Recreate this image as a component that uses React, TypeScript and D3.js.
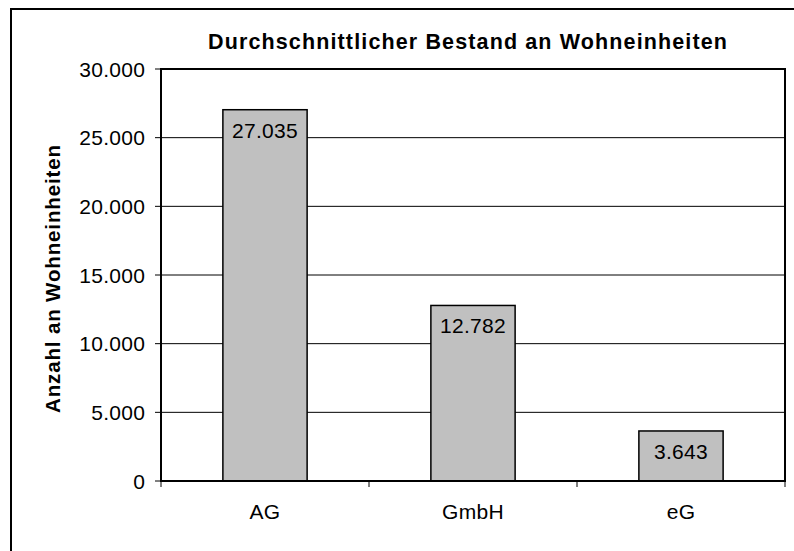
import React from "react";
import * as d3 from "d3";

const categories = ["AG", "GmbH", "eG"];
const values = [27035, 12782, 3643];
const valueLabels = ["27.035", "12.782", "3.643"];
const yTicks = [0, 5000, 10000, 15000, 20000, 25000, 30000];
const yTickLabels = ["0", "5.000", "10.000", "15.000", "20.000", "25.000", "30.000"];
const title = "Durchschnittlicher Bestand an Wohneinheiten";
const yTitle = "Anzahl an Wohneinheiten";

export default function App() {
  const W = 794, H = 551;
  const left = 161, right = 785, top = 69, bottom = 481;
  const font = "'Liberation Sans', Arial, sans-serif";

  const x = d3.scaleBand<string>().domain(categories).range([left, right]).paddingInner(0.595).paddingOuter(0.2975);
  const y = d3.scaleLinear().domain([0, 30000]).range([bottom, top]);
  const step = (right - left) / categories.length;

  return (
    <svg width={W} height={H} style={{ position: "absolute", left: 0, top: 0, background: "#fff" }}>
      <rect x={11} y={9} width={W + 20} height={H + 20} fill="#fff" stroke="#000" strokeWidth={2} />
      <text x={467.5} y={49} textAnchor="middle" fontFamily={font} fontWeight="bold" fontSize={21.5} textLength={519} lengthAdjust="spacing" fill="#000">{title}</text>
      {yTicks.slice(1).map((t) => (
        <line key={t} x1={left} x2={right} y1={y(t)} y2={y(t)} stroke="#000" strokeWidth={1} />
      ))}
      {yTicks.map((t, i) => (
        <g key={"t" + t}>
          <line x1={left - 6} x2={left} y1={y(t)} y2={y(t)} stroke="#000" strokeWidth={1} />
          <text x={145.3} y={y(t)} dy="0.36em" textAnchor="end" fontFamily={font} fontSize={21} letterSpacing={0.3} fill="#000">{yTickLabels[i]}</text>
        </g>
      ))}
      {categories.map((c, i) => (
        <g key={c}>
          <rect x={x(c)} y={y(values[i])} width={x.bandwidth()} height={bottom - y(values[i])} fill="#c0c0c0" stroke="#000" strokeWidth={1.5} />
          <text x={x(c)! + x.bandwidth() / 2} y={y(values[i]) + 28} textAnchor="middle" fontFamily={font} fontSize={21} letterSpacing={0.3} fill="#000">{valueLabels[i]}</text>
          <text x={left + step * (i + 0.5)} y={519} textAnchor="middle" fontFamily={font} fontSize={21} letterSpacing={0.3} fill="#000">{c}</text>
        </g>
      ))}
      {d3.range(categories.length + 1).map((i) => (
        <line key={"xt" + i} x1={left + step * i} x2={left + step * i} y1={bottom} y2={bottom + 6} stroke="#000" strokeWidth={1} />
      ))}
      <rect x={left} y={top} width={right - left} height={bottom - top} fill="none" stroke="#000" strokeWidth={2} />
      <text transform={`translate(60,279) rotate(-90)`} textAnchor="middle" fontFamily={font} fontWeight="bold" fontSize={20.5} textLength={268} lengthAdjust="spacing" fill="#000">{yTitle}</text>
    </svg>
  );
}
